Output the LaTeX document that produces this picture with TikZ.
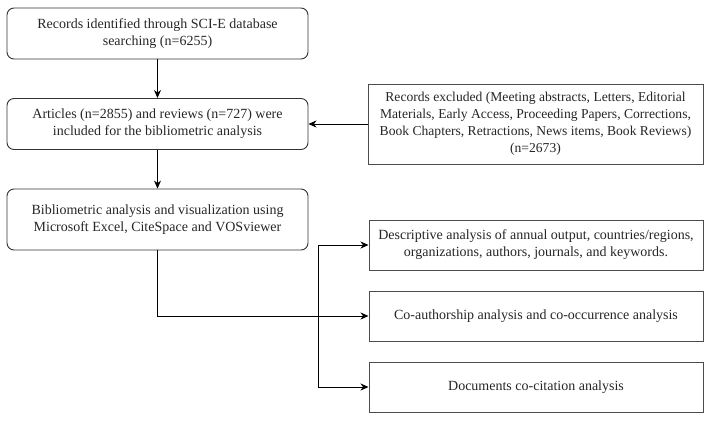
\documentclass[tikz,border=0pt]{standalone}
\usepackage{fontspec}
\setmainfont{Liberation Serif}
\usetikzlibrary{arrows.meta}
\begin{document}
\begin{tikzpicture}[x=1pt,y=-1pt,
  txt/.style={font=\fontsize{14}{17}\selectfont, align=center, text=black!85, inner sep=0pt},
  rbox/.style={draw=black!80, line width=0.9pt, rounded corners=7pt},
  sbox/.style={draw=black!70, line width=1pt},
  conn/.style={draw=black, line width=0.9pt, -{Stealth[length=8pt,width=7pt,inset=2.5pt]}},
  line/.style={draw=black, line width=0.9pt}]
\useasboundingbox (0,0) rectangle (711,421);
% left column
\node[rbox, txt, minimum width=301pt, minimum height=51pt] (b1) at (157.5,33.5) {Records identified through SCI-E database\\searching (n=6255)};
\node[rbox, txt, minimum width=301pt, minimum height=51pt] (b2) at (157.5,124) {Articles (n=2855) and reviews (n=727) were\\included for the bibliometric analysis};
\node[rbox, txt, minimum width=301pt, minimum height=61pt] (b3) at (157.5,219.5) {Bibliometric analysis and visualization using\\Microsoft Excel, CiteSpace and VOSviewer};
% excluded
\node[sbox, txt, font=\fontsize{13.6}{17}\selectfont, minimum width=335pt, minimum height=80pt] (ex) at (535.5,124) {Records excluded (Meeting abstracts, Letters, Editorial\\Materials, Early Access, Proceeding Papers, Corrections,\\Book Chapters, Retractions, News items, Book Reviews)\\(n=2673)};
% right boxes
\node[sbox, txt, minimum width=334pt, minimum height=50pt] (r1) at (536,245) {Descriptive analysis of annual output, countries/regions,\\organizations, authors, journals, and keywords.};
\node[sbox, txt, minimum width=334pt, minimum height=50pt] (r2) at (536,316) {Co-authorship analysis and co-occurrence analysis};
\node[sbox, txt, minimum width=334pt, minimum height=50pt] (r3) at (536,387) {Documents co-citation analysis};
% connectors
\draw[conn] (b1) -- (b2);
\draw[conn] (b2) -- (b3);
\draw[conn] (ex) -- (b2);
\coordinate (bus1) at (318,245);
\coordinate (bus3) at (318,387);
\draw[line] (bus1) -- (bus3);
\draw[conn] (b3.south) |- (r2.west);
\draw[conn] (bus1) -- (r1.west);
\draw[conn] (bus3) -- (r3.west);
\end{tikzpicture}
\end{document}
